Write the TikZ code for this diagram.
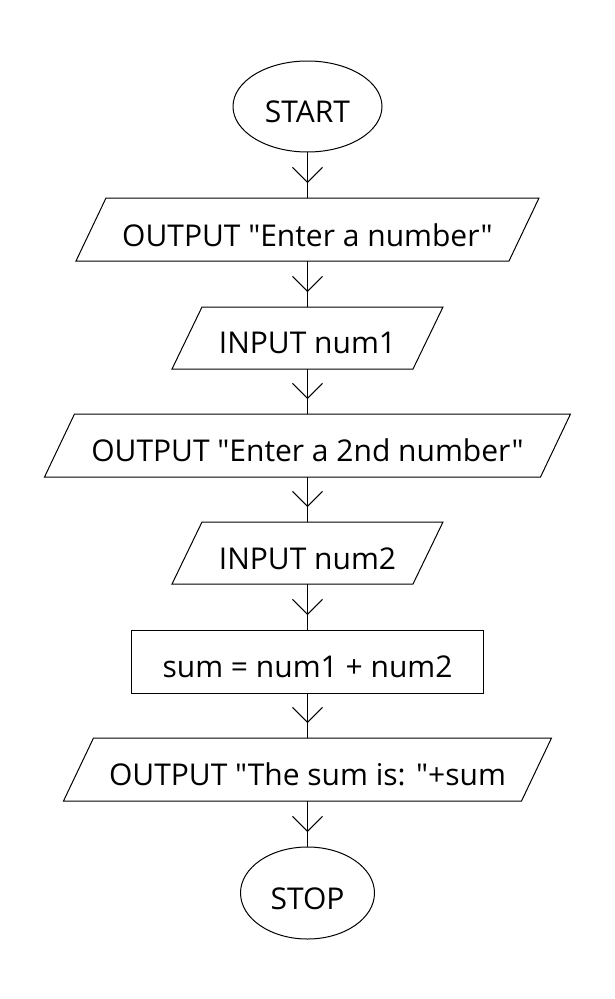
\documentclass[tikz,border=0pt]{standalone}
\usepackage{fontspec}
\setmainfont{Open Sans}[Ligatures=TeXOff]
\usetikzlibrary{shapes.geometric,arrows.meta,decorations.markings}
\tikzset{
  shapeline/.style={draw, line width=1pt, inner sep=0pt, outer sep=0pt},
  term/.style={shapeline, ellipse},
  io/.style={rectangle, inner sep=0pt, outer sep=0pt},
  iodraw/.style={line width=1pt, line join=miter},
  proc/.style={shapeline, rectangle},
  lbl/.style={anchor=base, inner sep=0pt, font=\fontsize{30}{36}\selectfont},
  flow/.style={line width=1pt, postaction={decorate},
    decoration={markings, mark=at position -15pt with {\arrow{Straight Barb[length=15pt,width=30pt,line width=1pt]}}}},
}
\begin{document}
\begin{tikzpicture}[x=1pt,y=-1pt]
  \useasboundingbox[fill=white] (0,0) rectangle (615,999);
  % shapes
  \node[term, minimum width=149, minimum height=91] (start) at (307.5,106.5) {};
  \node[io, minimum width=463, minimum height=63] (out1) at (307.5,229.5) {};
  \node[io, minimum width=271, minimum height=62] (in1) at (307.5,338) {};
  \node[io, minimum width=526, minimum height=63] (out2) at (307.5,445.5) {};
  \node[io, minimum width=271, minimum height=62] (in2) at (307.5,553) {};
  \node[proc, minimum width=352, minimum height=63] (sum) at (307.5,661.5) {};
  \node[io, minimum width=488, minimum height=63] (out3) at (307.5,769.5) {};
  \node[term, minimum width=134, minimum height=92] (stop) at (307.5,893) {};
  \foreach \n in {out1,in1,out2,in2,out3}
    \draw[iodraw] ([xshift=30pt]\n.north west) -- (\n.north east)
      -- ([xshift=-30pt]\n.south east) -- (\n.south west) -- cycle;
  % texts
  \node[lbl] (tstart) at (307.5,122.5) {START};
  \node[lbl] (tout1) at (307.5,246) {OUTPUT "Enter a number"};
  \node[lbl] (tin1) at (307.5,353.5) {INPUT num1};
  \node[lbl] (tout2) at (307.5,461.5) {OUTPUT "Enter a 2nd number"};
  \node[lbl] (tin2) at (307.5,569) {INPUT num2};
  \node[lbl] (tsum) at (307.5,677.5) {sum = num1 + num2};
  \node[lbl] (tout3) at (307.5,785) {OUTPUT "The sum is: "+sum};
  \node[lbl] (tstop) at (307.5,909) {STOP};
  % connectors
  \draw[flow] (start.south) -- (out1.north);
  \draw[flow] (out1.south) -- (in1.north);
  \draw[flow] (in1.south) -- (out2.north);
  \draw[flow] (out2.south) -- (in2.north);
  \draw[flow] (in2.south) -- (sum.north);
  \draw[flow] (sum.south) -- (out3.north);
  \draw[flow] (out3.south) -- (stop.north);
\end{tikzpicture}
\end{document}
